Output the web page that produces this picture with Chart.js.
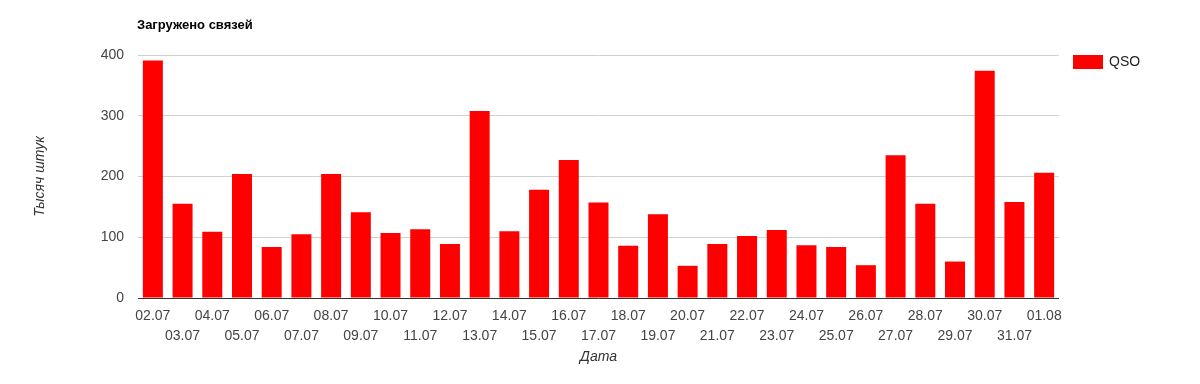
<!DOCTYPE html>
<html>
<head>
<meta charset="utf-8">
<script src="https://cdn.jsdelivr.net/npm/chart.js@4/dist/chart.umd.min.js"></script>
<style>
  html, body { margin: 0; padding: 0; background: #fff; }
  canvas { display: block; }
</style>
</head>
<body>
<canvas id="c" width="1200" height="384"></canvas>
<script>
const chartTitle = 'Загружено связей';
const seriesName = 'QSO';
const xTitle = 'Дата';
const yTitle = 'Тысяч штук';
const categories = ['02.07','03.07','04.07','05.07','06.07','07.07','08.07','09.07','10.07','11.07',
  '12.07','13.07','14.07','15.07','16.07','17.07','18.07','19.07','20.07','21.07',
  '22.07','23.07','24.07','25.07','26.07','27.07','28.07','29.07','30.07','31.07','01.08'];
const qsoValues = [391, 155, 109, 204, 84, 105, 204, 141, 107, 113,
  89, 308, 110, 178, 227, 157, 86, 138, 53, 89,
  102, 112, 87, 84, 54, 235, 155, 60, 374, 158, 206];
const yTicks = [0, 100, 200, 300, 400];

const FONT = 'Arial, "Liberation Sans", sans-serif';

const overlay = {
  id: 'overlay',
  afterDraw(chart) {
    const ctx = chart.ctx;
    const area = chart.chartArea;
    ctx.save();
    // title
    ctx.font = 'bold 13px ' + FONT;
    ctx.fillStyle = '#000';
    ctx.textAlign = 'left';
    ctx.textBaseline = 'middle';
    ctx.fillText(chartTitle, area.left - 1, 25);
    // legend
    const ds = chart.data.datasets[0];
    ctx.fillStyle = ds.backgroundColor;
    ctx.fillRect(area.right + 14, 55, 30, 14);
    ctx.font = '14px ' + FONT;
    ctx.fillStyle = '#222';
    ctx.fillText(ds.label, area.right + 50, 62.5);
    ctx.restore();
  }
};

new Chart(document.getElementById('c'), {
  type: 'bar',
  data: {
    labels: categories.map((c, i) => i % 2 === 0 ? c : ['', c]),
    datasets: [{
      label: seriesName,
      data: qsoValues,
      backgroundColor: '#ff0000',
      borderWidth: 0,
      barPercentage: 0.673,
      categoryPercentage: 1.0
    }]
  },
  options: {
    responsive: false,
    devicePixelRatio: 1,
    animation: false,
    layout: { padding: { top: 55, right: 141, bottom: 0, left: 0 } },
    plugins: {
      legend: { display: false },
      title: { display: false },
      tooltip: { enabled: false }
    },
    scales: {
      x: {
        grid: { display: false, drawTicks: false },
        border: { display: false },
        ticks: {
          autoSkip: false,
          maxRotation: 0,
          minRotation: 0,
          padding: 8,
          color: '#444',
          font: { family: FONT, size: 14, lineHeight: '20px' }
        },
        title: {
          display: true,
          text: xTitle,
          color: '#333',
          font: { family: FONT, size: 14, style: 'italic' },
          padding: { top: 0, bottom: 18.6 }
        },
        afterFit(scale) { scale.height = 86; }
      },
      y: {
        min: 0,
        max: 400,
        afterBuildTicks(scale) { scale.ticks = yTicks.map(v => ({ value: v })); },
        grid: {
          drawTicks: false,
          color: (c) => (c.tick && c.tick.value === 0) ? '#333' : '#d0d0d0',
          lineWidth: 1
        },
        border: { display: false },
        ticks: {
          padding: 14,
          color: '#444',
          font: { family: FONT, size: 14 }
        },
        title: {
          display: true,
          text: yTitle,
          color: '#333',
          font: { family: FONT, size: 14, style: 'italic' },
          padding: { top: 31.6, bottom: 0 }
        },
        afterFit(scale) { scale.width = 138; }
      }
    }
  },
  plugins: [overlay]
});
</script>
</body>
</html>
